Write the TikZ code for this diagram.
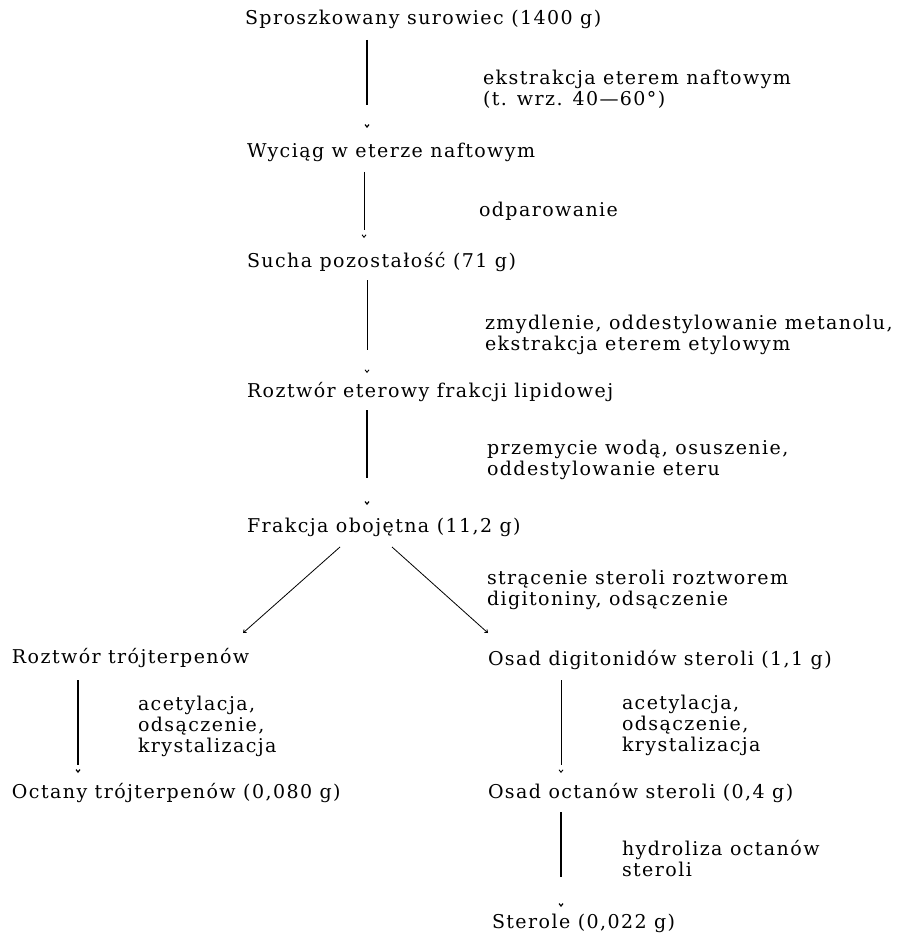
\documentclass[tikz,border=0pt]{standalone}
\usepackage{fontspec}
\setmainfont{DejaVu Serif}[LetterSpace=7.5]
\usetikzlibrary{arrows.meta}
\begin{document}
\begin{tikzpicture}[x=1pt,y=-1pt,
  every node/.style={inner sep=0pt, outer sep=0pt, font=\fontsize{19}{21}\selectfont},
  stage/.style={anchor=base west, text height=13pt, text depth=4pt},
  note/.style={anchor=north west, align=left},
  flow/.style={draw, line width=1.2pt, -{Straight Barb[length=2.5pt,width=4pt]}},
  branch/.style={draw, line width=0.8pt, -{Straight Barb[length=2.5pt,width=4pt]}}
]
\useasboundingbox[fill=white] (0,0) rectangle (900,933);

% stages
\node[stage] (n1) at (245,25) {Sproszkowany surowiec (1400 g)};
\node[stage] (n2) at (247,158) {Wyciąg w eterze naftowym};
\node[stage] (n3) at (247,267) {Sucha pozostałość (71 g)};
\node[stage] (n4) at (247,397) {Roztwór eterowy frakcji lipidowej};
\node[stage] (n5) at (247,532) {Frakcja obojętna (11,2 g)};
\node[stage] (n6) at (12,663) {Roztwór trójterpenów};
\node[stage] (n7) at (12,798) {Octany trójterpenów (0,080 g)};
\node[stage] (n8) at (488,665) {Osad digitonidów steroli (1,1 g)};
\node[stage] (n9) at (488,798) {Osad octanów steroli (0,4 g)};
\node[stage] (n10) at (492,928) {Sterole (0,022 g)};

% operations
\node[note] (l1) at (483,70) {ekstrakcja eterem naftowym\\(t. wrz. 40—60°)};
\node[note] (l2) at (479,202) {odparowanie};
\node[note] (l3) at (485,315) {zmydlenie, oddestylowanie metanolu,\\ekstrakcja eterem etylowym};
\node[note] (l4) at (487,440) {przemycie wodą, osuszenie,\\oddestylowanie eteru};
\node[note] (l5) at (487,570) {strącenie steroli roztworem\\digitoniny, odsączenie};
\node[note] (l6) at (138,696) {acetylacja,\\odsączenie,\\krystalizacja};
\node[note] (l7) at (622,695) {acetylacja,\\odsączenie,\\krystalizacja};
\node[note] (l8) at (622,840) {hydroliza octanów\\steroli};

% connector columns
\coordinate (cA) at (367,0);
\coordinate (cB) at (364,0);
\coordinate (cL) at (78,0);
\coordinate (cR) at (561,0);

\draw[flow, shorten <=11pt, shorten >=17pt, dash pattern=on 65pt off 40pt] (n1.south -| cA) -- (n2.north -| cA);
\draw[flow, line width=0.9pt, shorten <=10pt, shorten >=16pt, dash pattern=on 58pt off 40pt] (n2.south -| cB) -- (n3.north -| cB);
\draw[flow, line width=0.9pt, shorten <=9pt, shorten >=11pt, dash pattern=on 70pt off 40pt] (n3.south -| cA) -- (n4.north -| cA);
\draw[flow, shorten <=9pt, shorten >=14pt, dash pattern=on 68pt off 40pt] (n4.south -| cA) -- (n5.north -| cA);

\draw[branch] ([xshift=93pt,yshift=-11pt]n5.south west) -- ([xshift=231pt,yshift=17pt]n6.north west);
\draw[branch] ([xshift=145pt,yshift=-11pt]n5.south west) -- ([yshift=19pt]n8.north west);

\draw[flow, shorten <=13pt, shorten >=12pt, dash pattern=on 85pt off 40pt] (n6.south -| cL) -- (n7.north -| cL);
\draw[flow, line width=0.9pt, shorten <=11pt, shorten >=12pt, dash pattern=on 85pt off 40pt] (n8.south -| cR) -- (n9.north -| cR);
\draw[flow, shorten <=10pt, shorten >=8pt, dash pattern=on 65pt off 40pt] (n9.south -| cR) -- (n10.north -| cR);
\end{tikzpicture}
\end{document}
